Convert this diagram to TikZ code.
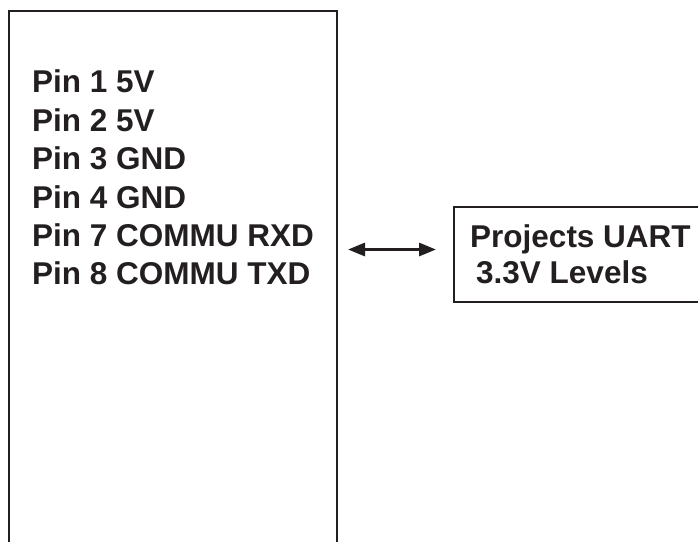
\documentclass[tikz,border=0pt]{standalone}
\usepackage{fontspec}
\setmainfont{Liberation Sans}
\usetikzlibrary{arrows.meta}
\definecolor{ink}{HTML}{231F20}
\begin{document}
\begin{tikzpicture}[x=1pt,y=-1pt,
  pinlabel/.style={anchor=base west,inner sep=0pt,text=ink,font=\fontsize{31.5}{38}\selectfont\bfseries},
  boxstyle/.style={draw=ink,line width=2pt,inner sep=0pt,rectangle}]
\useasboundingbox (0,0) rectangle (698,541);
\clip (0,0) rectangle (698,541);
\node[boxstyle,minimum width=328pt,minimum height=590pt] (conn) at (173,306) {};
\node[boxstyle,minimum width=320pt,minimum height=95pt] (proj) at (614,254.5) {};
\node[pinlabel] (p1) at (32,92) {Pin 1 5V};
\node[pinlabel] (p2) at (32,131) {Pin 2 5V};
\node[pinlabel] (p3) at (32,169.5) {Pin 3 GND};
\node[pinlabel] (p4) at (32,208) {Pin 4 GND};
\node[pinlabel] (p7) at (32,246.5) {Pin 7 COMMU RXD};
\node[pinlabel] (p8) at (32,284) {Pin 8 COMMU TXD};
\node[pinlabel] (t1) at (470,247) {Projects UART};
\node[pinlabel] (t2) at (476,283) {3.3V Levels};
\coordinate (ay) at (0,249.5);
\draw[ink,line width=3pt,{Triangle[length=17pt,width=13pt]}-{Triangle[length=17pt,width=13pt]},shorten <=10pt,shorten >=17pt]
  (conn.east |- ay) -- (proj.west |- ay);
\end{tikzpicture}
\end{document}
